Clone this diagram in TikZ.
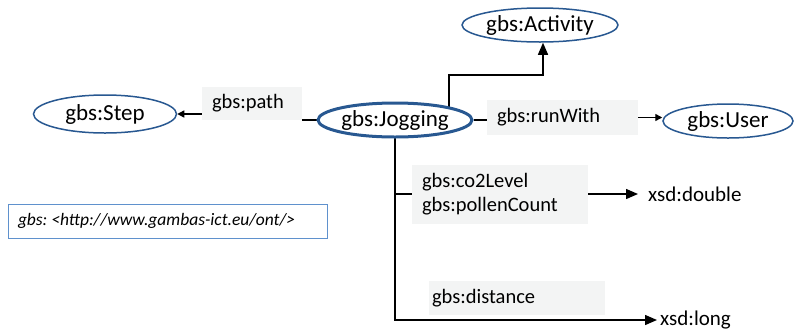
\documentclass[tikz,border=0pt]{standalone}
\usepackage{fontspec}
\setmainfont{Carlito}
\frenchspacing
\usetikzlibrary{shapes.geometric,arrows.meta,backgrounds}
\definecolor{ontoblue}{RGB}{40,88,145}
\definecolor{prefblue}{RGB}{95,145,205}
\definecolor{lblgray}{RGB}{243,244,244}
\begin{document}
\begin{tikzpicture}[x=1pt,y=-1pt,
  cls/.style={ellipse, draw=ontoblue, line width=1.5pt, fill=white, inner sep=0pt,
              font=\fontsize{23}{27}\selectfont},
  prop/.style={fill=lblgray, inner ysep=0pt, align=left,
               font=\fontsize{20.5}{24}\selectfont},
  lit/.style={inner sep=0pt, anchor=west, font=\fontsize{21}{25}\selectfont},
  link/.style={line width=1.4pt},
  bigtip/.style={-{Triangle[length=12pt,width=10pt]}},
  smalltip/.style={-{Triangle[length=7pt,width=7pt]}},
]
\useasboundingbox (0,0) rectangle (794,330);

% classes
\node[cls, line width=3pt, minimum width=154pt, minimum height=34pt] (jog) at (395,120) {gbs:Jogging};
\node[cls, minimum width=156pt, minimum height=34pt] (act) at (540,25) {gbs:Activity};
\node[cls, minimum width=143pt, minimum height=38pt] (step) at (105,114) {gbs:Step};
\node[cls, minimum width=130pt, minimum height=34pt] (user) at (728,121) {gbs:User};

% property labels
\node[prop, text width=80pt, inner xsep=10pt, minimum height=33pt] (path) at (252,103.5) {gbs:path};
\node[prop, text width=131pt, inner xsep=10pt, minimum height=35pt] (run) at (562.5,117.5) {gbs:runWith};
\node[prop, text width=156pt, inner xsep=10pt, minimum height=59pt] (co2) at (500,194) {gbs:co2Level\\gbs:pollenCount};
\node[prop, text width=170pt, inner xsep=3pt, minimum height=34pt] (dist) at (517,298) {gbs:distance};

% datatypes
\node[lit] (dbl) at (648,194) {xsd:double};
\node[lit] (lng) at (660,320) {xsd:long};

% namespace prefix
\node[draw=prefblue, line width=0.8pt, text width=299pt, inner xsep=10pt, minimum height=34pt,
      align=left, font=\fontsize{17.5}{20}\selectfont\itshape] (pfx) at (167.5,221)
      {gbs:\kern4pt<http://www.gambas-ict.eu/ont/>};

% connectors
\coordinate (upA) at (449,75);
\coordinate (upB) at (543,75);
\begin{scope}[on background layer]
  \draw[link, bigtip] (jog.center -| upA) -- (upA) -- (upB) -- (upB |- act.south);
  \draw[link] (jog.west) -- (jog.west -| path.east);
  \draw[link, smalltip] (path.west |- step.east) -- (step.east);
  \draw[link] (jog.east) -- (jog.east -| run.west);
  \draw[link, smalltip] (run.east) -- (run.east -| user.west);
  \draw[link] (jog.center |- co2.west) -- (co2.west);
  \draw[link, bigtip] (co2.east) -- ([xshift=-10pt]dbl.west);
  \draw[link, bigtip] (jog.center) -- (jog.center |- lng.west) -- ([xshift=-3pt]lng.west);
\end{scope}
\end{tikzpicture}
\end{document}
